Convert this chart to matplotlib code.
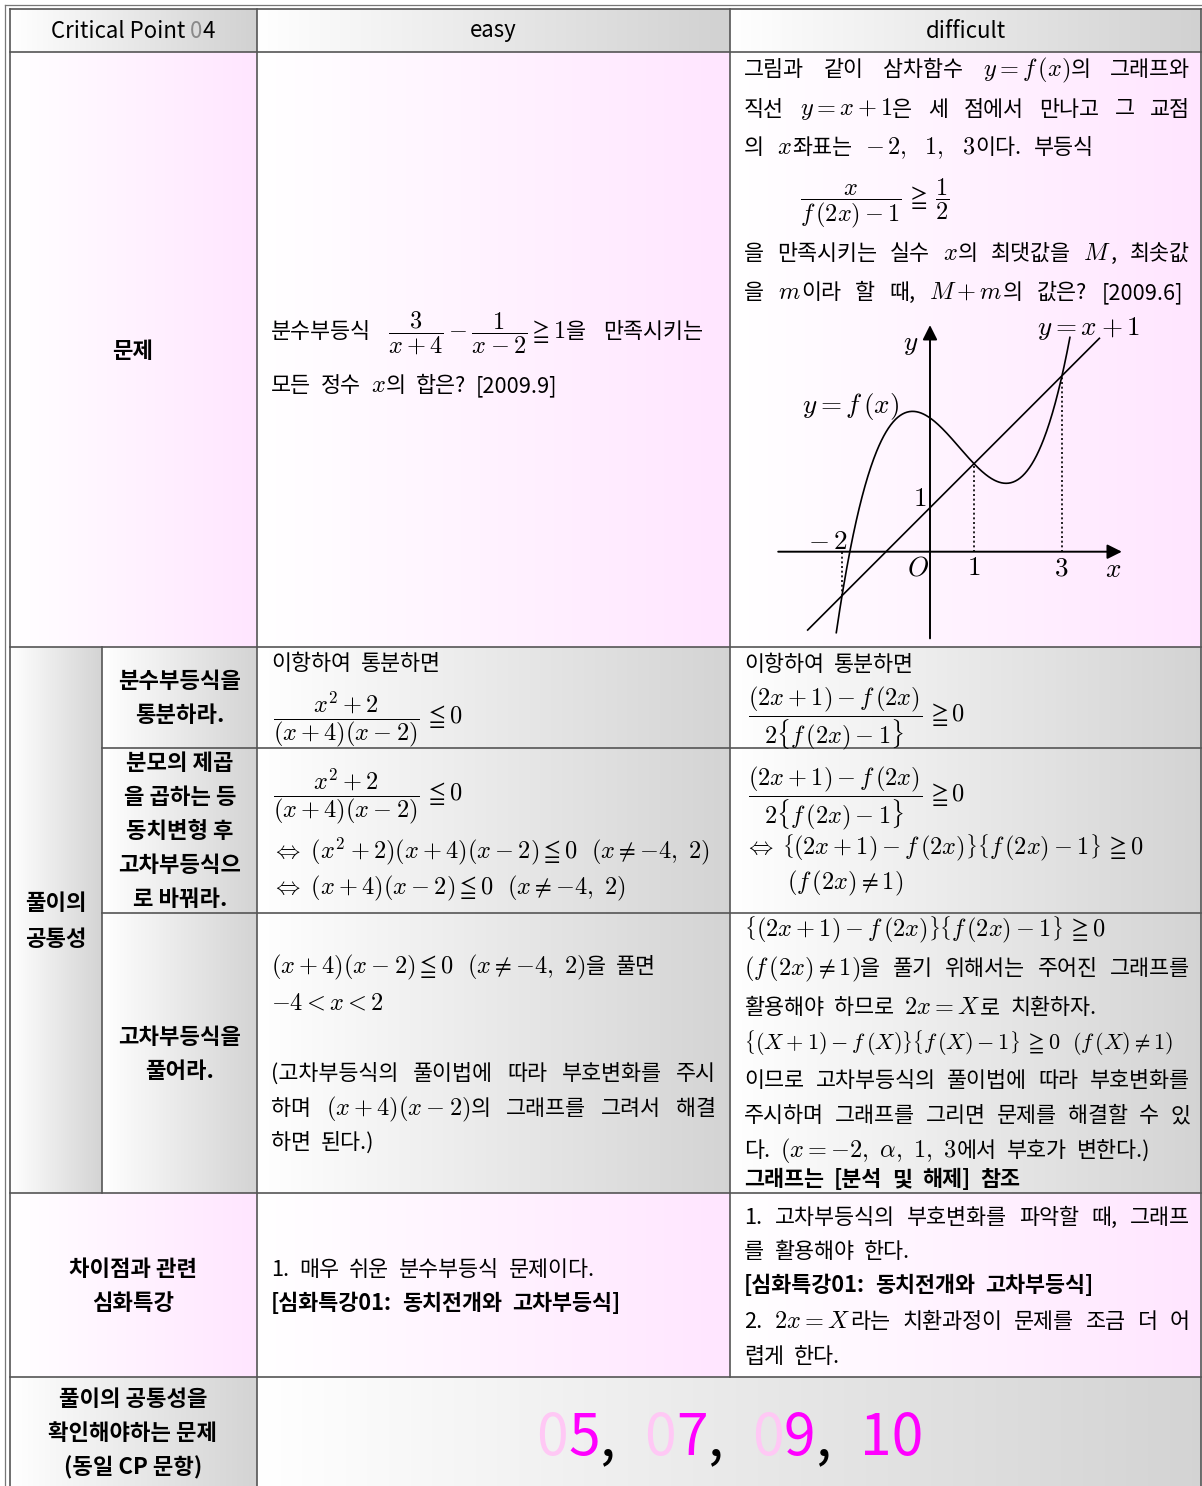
import re
import matplotlib
matplotlib.use('Agg')
import matplotlib.pyplot as plt
import numpy as np

plt.rcParams['mathtext.fontset'] = 'cm'
KR = 'Noto Sans CJK KR'
plt.rcParams['font.family'] = [KR, 'DejaVu Sans']

# ---------------- data ----------------
header_title = 'Critical Point '
header_num = ['0', '4']
col_headers = ['easy', 'difficult']
row_label_problem = ['문제']
row_label_common = ['풀이의', '공통성']
row_label_diff = ['차이점과 관련', '심화특강']
row_label_related = ['풀이의 공통성을', '확인해야하는 문제', '(동일 CP 문항)']
step_labels = [['분수부등식을', '통분하라.'],
               ['분모의 제곱', '을 곱하는 등', '동치변형 후', '고차부등식으', '로 바꿔라.'],
               ['고차부등식을', '풀어라.']]
related_problems = ['05', '07', '09', '10']

# graph of the cubic: f(x) = (x+1) + a (x+2)(x-1)(x-3)
intersect_x = [-2, 1, 3]
line_coef = [1, 1]          # y = x + 1
cubic_lead = 0.34
curve_x_range = [-2.13, 3.18]
line_x_range = [-2.78, 3.85]

W, H = 1202, 1486
fig = plt.figure(figsize=(W / 100, H / 100), dpi=100)
ax = fig.add_axes([0, 0, 1, 1])
ax.set_autoscale_on(False)
ax.set_xlim(0, W)
ax.set_ylim(H, 0)
ax.axis('off')
R = fig.canvas.get_renderer()

PINK = (1.0, 0.90, 1.0)
GRAY = (0.83, 0.83, 0.83)
HGRAY = (0.82, 0.82, 0.82)


def grad(x0, x1, y0, y1, c1, c0=(1, 1, 1)):
    n = 256
    t = np.linspace(0, 1, n)
    img = np.zeros((1, n, 3))
    for k in range(3):
        img[0, :, k] = c0[k] + (c1[k] - c0[k]) * t
    ax.imshow(img, extent=(x0, x1, y1, y0), aspect='auto',
              interpolation='bilinear', zorder=0)


# ---- cell backgrounds ----
for (a, b) in [(10, 257), (257, 730), (730, 1201)]:
    grad(a, b, 9, 52, HGRAY)
    grad(a, b, 52, 647, PINK)
    grad(a, b, 1193, 1377, PINK)
grad(10, 102, 647, 1193, GRAY)
for (y0, y1) in [(647, 748), (748, 913), (913, 1193)]:
    for (a, b) in [(102, 257), (257, 730), (730, 1201)]:
        grad(a, b, y0, y1, GRAY)
grad(10, 257, 1377, 1486, GRAY)
grad(257, 1201, 1377, 1486, GRAY)

# ---- grid lines ----
LC = '#555555'
LW = 1.2
for y, a, b in [(9, 10, 1201), (52, 10, 1201), (647, 10, 1201), (748, 102, 1201),
                (913, 102, 1201), (1193, 10, 1201), (1377, 10, 1201)]:
    ax.plot([a, b], [y, y], color=LC, lw=LW, zorder=2)
for x, a, b in [(10, 9, 1486), (102, 647, 1193), (257, 9, 1486), (730, 9, 1377),
                (1201, 9, 1486)]:
    ax.plot([x, x], [a, b], color=LC, lw=LW, zorder=2)
ax.plot([5, 5], [5, 1486], color='#777777', lw=0.9, zorder=2)
ax.plot([5, 1201], [5, 5], color='#777777', lw=0.9, zorder=2)

FS = 15.7    # Korean text
BS = 16      # bold labels
MS = 17.5    # math


def txt(x, y, s, size=FS, weight='normal', color='k', ha='left'):
    return ax.text(x, y, s, fontsize=size, fontweight=weight, color=color,
                   ha=ha, va='baseline', zorder=3)


def width(t):
    return t.get_window_extent(renderer=R).width


def tokenize(s):
    words, cur, inm = [], '', False
    for ch in s:
        if ch == '$':
            inm = not inm
        if ch == ' ' and not inm:
            if cur:
                words.append(cur)
            cur = ''
        else:
            cur += ch
    if cur:
        words.append(cur)
    return words


def math_pieces(p):
    # braces drawn a little smaller (cm braces come from the big-delimiter font)
    if 'frac' in p:
        return [(p, 1.0, 0)]
    out = []
    for tok in re.split(r'(\\\{|\\\})', p):
        if not tok:
            continue
        sc = 0.84 if tok in ('\\{', '\\}') else 1.0
        pre = 5 if tok.lstrip().startswith(('\\geqq', '\\leqq')) else 0
        out.append((tok, sc, pre))
    return out


def make_word(s, yb, weight='normal', msize=MS):
    parts = s.split('$')
    objs, ws = [], []
    for i, p in enumerate(parts):
        if not p:
            continue
        if i % 2 == 1:
            for tok, sc, pre in math_pieces(p):
                o = txt(0, yb, '$' + tok + '$', size=msize * sc)
                objs.append((o, pre))
                ws.append(width(o) + pre)
        else:
            o = txt(0, yb, p, size=FS, weight=weight)
            objs.append((o, 0))
            ws.append(width(o))
    return objs, ws


def line(x0, yb, s, x1=None, weight='normal', gap=10, msize=MS):
    words = [make_word(w, yb, weight, msize) for w in tokenize(s)]
    tot = sum(sum(ws) for _, ws in words)
    if x1 is not None and len(words) > 1:
        gap = (x1 - x0 - tot) / (len(words) - 1)
    x = x0
    for objs, ws in words:
        for (o, pre), w in zip(objs, ws):
            o.set_x(x + pre)
            x += w
        x += gap


def center_lines(xc, ys, lines, weight='bold'):
    for y, s in zip(ys, lines):
        txt(xc, y, s, size=BS, weight=weight, ha='center')


# ---- header ----
t1 = txt(0, 37.5, header_title, size=16)
t2 = txt(0, 37.5, header_num[0], size=16, color='#8a8a8a')
t3 = txt(0, 37.5, header_num[1], size=16)
ws = [width(t) for t in (t1, t2, t3)]
x = 133 - sum(ws) / 2
for t, w in zip((t1, t2, t3), ws):
    t.set_x(x)
    x += w
txt(493, 37.5, col_headers[0], size=16, ha='center')
txt(966, 37.5, col_headers[1], size=16, ha='center')

# ---- left labels ----
center_lines(133, [357.5], row_label_problem)
center_lines(56, [910.5, 945.5], row_label_common)
center_lines(180, [688.5, 721.5], step_labels[0])
center_lines(180, [770.5, 804.5, 838.5, 872.5, 906.5], step_labels[1])
center_lines(180, [1044.5, 1078.5], step_labels[2])
center_lines(133, [1275.5, 1310.5], row_label_diff)
center_lines(133, [1405.5, 1440.5, 1474.5], row_label_related)

# ---- problem row ----
line(271, 338, r'분수부등식 $\dfrac{3}{x+4}-\dfrac{1}{x-2}\geqq 1$을 만족시키는', x1=703)
line(271, 392.5, '모든 정수 $x$의 합은? [2009.9]')

X0, X1 = 744, 1190
line(X0, 76.5, r'그림과 같이 삼차함수 $y=f\,(x)$의 그래프와', x1=X1)
line(X0, 115.5, '직선 $y=x+1$은 세 점에서 만나고 그 교점', x1=X1)
line(X0, 154, r'의 $x$좌표는 $-\,2,\ \ 1,\ \ 3$이다. 부등식', gap=13)
line(800, 204, r'$\dfrac{x}{f\,(2x)-1}\,\geqq\,\dfrac{1}{2}$')
line(X0, 260, '을 만족시키는 실수 $x$의 최댓값을 $M$, 최솟값', x1=X1)
line(X0, 299, '을 $m$이라 할 때, $M+m$의 값은? [2009.6]', x1=1183)

# ---- step 1 ----
line(271, 669.5, '이항하여 통분하면')
line(273, 724, r'$\dfrac{x^2+2}{(x+4)(x-2)}\,\leqq 0$')
line(744, 671, '이항하여 통분하면')
line(748, 721, r'$\dfrac{(2x+1)-f\,(2x)}{2\{f\,(2x)-1\}}\,\geqq 0$')

# ---- step 2 ----
line(273, 801, r'$\dfrac{x^2+2}{(x+4)(x-2)}\,\leqq 0$')
line(271, 858, r'$\Leftrightarrow\ (x^2+2)(x+4)(x-2)\leqq 0\ \ (x\neq{-4},\ 2)$')
line(271, 894, r'$\Leftrightarrow\ (x+4)(x-2)\leqq 0\ \ (x\neq{-4},\ 2)$')
line(748, 801, r'$\dfrac{(2x+1)-f\,(2x)}{2\{f\,(2x)-1\}}\,\geqq 0$')
line(744, 854, r'$\Leftrightarrow$ $\{(2x+1)-f\,(2x)\}\{f\,(2x)-1\}\geqq 0$', gap=8)
line(787, 889, r'$(f\,(2x)\neq 1)$')

# ---- step 3 ----
line(271, 973, r'$(x+4)(x-2)\leqq 0\ \ (x\neq{-4},\ 2)$을 풀면')
line(271, 1009, r'$-4<x<2$')
line(271, 1080, '(고차부등식의 풀이법에 따라 부호변화를 주시', x1=716)
line(271, 1115, '하며 $(x+4)(x-2)$의 그래프를 그려서 해결', x1=716)
line(271, 1149, '하면 된다.)')

line(744, 936, r'$\{(2x+1)-f\,(2x)\}\{f\,(2x)-1\}\geqq 0$')
line(X0, 975, r'$(f\,(2x)\neq 1)$을 풀기 위해서는 주어진 그래프를', x1=X1)
line(X0, 1014, '활용해야 하므로 $2x=X$로 치환하자.')
line(744, 1049, r'$\{(X+1)-f\,(X)\}\{f\,(X)-1\}\geqq 0\ \ (f\,(X)\neq 1)$', msize=16.0)
line(X0, 1087, '이므로 고차부등식의 풀이법에 따라 부호변화를', x1=X1)
line(X0, 1122, '주시하며 그래프를 그리면 문제를 해결할 수 있', x1=X1)
line(X0, 1157, r'다. $(x=-2,\ \alpha,\ 1,\ 3$에서 부호가 변한다.)')
line(X0, 1186, '그래프는 [분석 및 해제] 참조', weight='bold')

# ---- difference row ----
line(271, 1275.5, '1. 매우 쉬운 분수부등식 문제이다.')
line(271, 1310.5, '[심화특강01: 동치전개와 고차부등식]', weight='bold')
line(X0, 1223.5, '1. 고차부등식의 부호변화를 파악할 때, 그래프', x1=X1)
line(X0, 1257.5, '를 활용해야 한다.')
line(X0, 1292.5, '[심화특강01: 동치전개와 고차부등식]', weight='bold')
line(X0, 1327.5, '2. $2x=X$라는 치환과정이 문제를 조금 더 어', x1=X1)
line(X0, 1363, '렵게 한다.')

# ---- related problems ----
pieces = []
for i, p in enumerate(related_problems):
    if p[0] == '0':
        pieces.append((p[0], '#ffc8f5', 0))
        pieces.append((p[1:], '#ff00ff', 0))
    else:
        pieces.append((p, '#ff00ff', 0))
    if i < len(related_problems) - 1:
        pieces.append((',', 'k', 29))
ts = [(txt(0, 1455, s, size=41, color=c), g) for s, c, g in pieces]
ws = [width(t) + g for t, g in ts]
x = 730 - sum(ws) / 2
for (t, g), w in zip(ts, ws):
    t.set_x(x)
    x += w

# ---- graph ----
unit = 44.0
ox, oy = 930.0, 551.7
xl = (-3.5, 4.6)
yl = (-2.1, 5.3)
left = ox + xl[0] * unit
top = oy - yl[1] * unit
gw = (xl[1] - xl[0]) * unit
gh = (yl[1] - yl[0]) * unit
gax = fig.add_axes([left / W, 1 - (top + gh) / H, gw / W, gh / H])
gax.set_xlim(*xl)
gax.set_ylim(*yl)
gax.axis('off')
gax.patch.set_alpha(0)

arrow = dict(arrowstyle='-|>', mutation_scale=22, lw=1.4, color='k',
             shrinkA=0, shrinkB=0)
gax.annotate('', xy=(4.36, 0), xytext=(-3.45, 0), arrowprops=arrow)
gax.annotate('', xy=(0, 5.15), xytext=(0, -1.97), arrowprops=arrow)

xs = np.linspace(curve_x_range[0], curve_x_range[1], 400)
lin = np.polyval(line_coef, xs)
fx = lin + cubic_lead * np.polyval(np.poly(intersect_x), xs)
gax.plot(xs, fx, color='k', lw=1.2)
xl2 = np.array(line_x_range)
gax.plot(xl2, np.polyval(line_coef, xl2), color='k', lw=1.2)
for xi in intersect_x:
    gax.plot([xi, xi], [0, np.polyval(line_coef, xi)], color='k', lw=1.2,
             linestyle=(0, (1.2, 1.6)))

GFS = 19.5
gax.text(-0.45, 4.74, '$y$', fontsize=GFS, ha='center', va='center')
gax.text(3.61, 5.08, r'$y=x+1$', fontsize=GFS, ha='center', va='center')
gax.text(-1.8, 3.29, r'$y=f\,(x)$', fontsize=GFS, ha='center', va='center')
gax.text(-2.32, 0.24, r'$-\,2$', fontsize=GFS, ha='center', va='center')
gax.text(-0.23, 1.2, '$1$', fontsize=GFS, ha='center', va='center')
gax.text(-0.27, -0.37, '$O$', fontsize=GFS, ha='center', va='center')
gax.text(1.0, -0.37, '$1$', fontsize=GFS, ha='center', va='center')
gax.text(2.98, -0.37, '$3$', fontsize=GFS, ha='center', va='center')
gax.text(4.16, -0.4, '$x$', fontsize=GFS, ha='center', va='center')

fig.savefig('out.png', dpi=100)
